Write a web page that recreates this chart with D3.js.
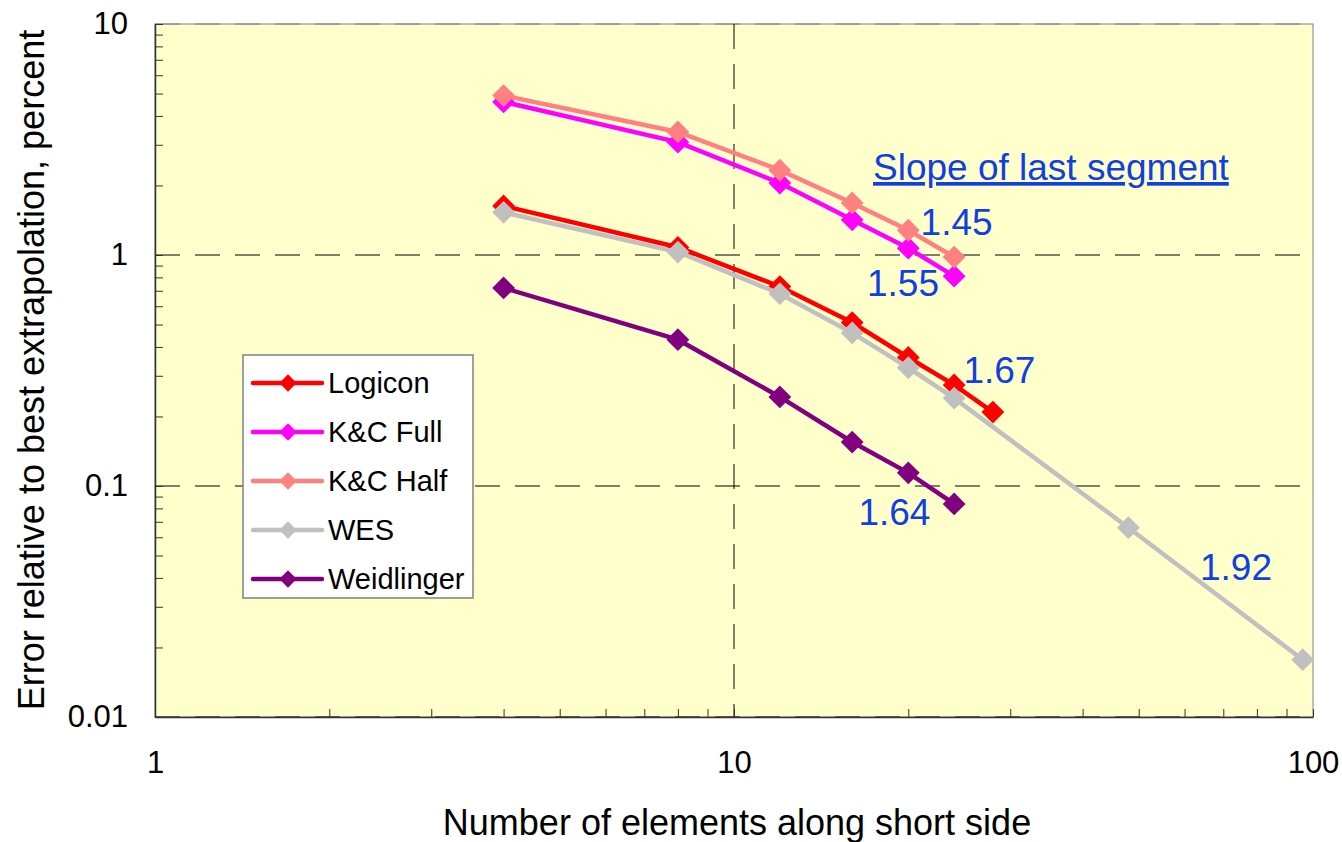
<!DOCTYPE html>
<html>
<head>
<meta charset="utf-8">
<script src="https://cdn.jsdelivr.net/npm/d3@7"></script>
<style>
  body { margin: 0; background: #ffffff; }
  text { font-family: "Liberation Sans", Arial, sans-serif; }
</style>
</head>
<body>
<div id="chart"></div>
<script>
// series data
var seriesNames = ["Logicon", "K&C Full", "K&C Half", "WES", "Weidlinger"];
var seriesColors = ["#ff0000", "#ff00ff", "#ff8080", "#c0c0c0", "#800080"];

var xLogicon = [4, 8, 12, 16, 20, 24, 28];
var yLogicon = [1.63, 1.08, 0.73, 0.51, 0.36, 0.274, 0.209];

var xKCFull = [4, 8, 12, 16, 20, 24];
var yKCFull = [4.6, 3.08, 2.05, 1.42, 1.07, 0.81];

var xKCHalf = [4, 8, 12, 16, 20, 24];
var yKCHalf = [4.9, 3.41, 2.33, 1.68, 1.28, 0.98];

var xWES = [4, 8, 12, 16, 20, 24, 48, 96];
var yWES = [1.53, 1.03, 0.68, 0.46, 0.325, 0.24, 0.066, 0.0177];

var xWeid = [4, 8, 12, 16, 20, 24];
var yWeid = [0.72, 0.43, 0.243, 0.155, 0.114, 0.0836];

// slope labels: text, x and y in data units (where the label starts / baseline)
var slopeLabels = ["1.45", "1.55", "1.67", "1.64", "1.92"];
var slopeX = [21.0, 16.97, 24.9, 16.4, 63.8];
var slopeY = [1.22, 0.665, 0.279, 0.0678, 0.0392];

var xTickLabels = [1, 10, 100];
var yTickLabels = [0.01, 0.1, 1, 10];

var svgWidth = 1342, svgHeight = 842;
var margin = { top: 24, right: 29, bottom: 125, left: 155 };
var width = svgWidth - margin.left - margin.right;
var height = svgHeight - margin.top - margin.bottom;

var svg = d3.select("#chart").append("svg")
    .attr("width", svgWidth)
    .attr("height", svgHeight);

var chartGroup = svg.append("g")
    .attr("transform", `translate(${margin.left}, ${margin.top})`);

var xScale = d3.scaleLog().domain([1, 100]).range([0, width]);
var yScale = d3.scaleLog().domain([0.01, 10]).range([height, 0]);

// plot background
chartGroup.append("rect")
    .attr("width", width)
    .attr("height", height)
    .attr("fill", "#ffffcc")
    .attr("stroke", "#808080")
    .attr("stroke-width", 1);

// all minor tick positions
var xTicks = [], yTicks = [];
[1, 10].forEach(function (d) { for (var i = 1; i <= 9; i++) xTicks.push(d * i); });
xTicks.push(100);
[0.01, 0.1, 1].forEach(function (d) { for (var i = 1; i <= 9; i++) yTicks.push(+(d * i).toFixed(4)); });
yTicks.push(10);

// dashed grid lines at the major values
chartGroup.selectAll(".hgrid")
    .data(yTickLabels)
    .enter().append("line")
    .attr("x1", 0).attr("x2", width)
    .attr("y1", d => yScale(d)).attr("y2", d => yScale(d))
    .attr("stroke", d => (d == 10 ? "#808080" : "#000"))
    .attr("stroke-width", 1)
    .attr("stroke-dasharray", "25,15");

chartGroup.append("line")
    .attr("x1", xScale(10)).attr("x2", xScale(10))
    .attr("y1", 0).attr("y2", height)
    .attr("stroke", "#000")
    .attr("stroke-width", 1)
    .attr("stroke-dasharray", "25,15");

// axes, ticks pointing inside
var xAxis = d3.axisBottom(xScale).tickValues(xTicks).tickSizeInner(-8).tickSizeOuter(0)
    .tickFormat(d => (xTickLabels.indexOf(d) >= 0 ? d : ""));
var yAxis = d3.axisLeft(yScale).tickValues(yTicks).tickSizeInner(-8).tickSizeOuter(0)
    .tickFormat(d => (yTickLabels.indexOf(d) >= 0 ? d : ""));

var gx = chartGroup.append("g")
    .attr("transform", `translate(0, ${height})`)
    .call(xAxis);
gx.select(".domain").attr("stroke", "#333").attr("stroke-width", 1.5);
gx.selectAll(".tick line").attr("stroke", "#333");
gx.selectAll(".tick text")
    .attr("y", 34)
    .attr("font-size", 31)
    .attr("fill", "#000");

var gy = chartGroup.append("g").call(yAxis);
gy.select(".domain").attr("stroke", "#333").attr("stroke-width", 1.5);
gy.selectAll(".tick line").attr("stroke", "#333");
gy.selectAll(".tick text")
    .attr("x", -27)
    .attr("font-size", 31)
    .attr("fill", "#000");

// series
var allSeries = [
    { x: xLogicon, y: yLogicon },
    { x: xKCFull, y: yKCFull },
    { x: xKCHalf, y: yKCHalf },
    { x: xWES, y: yWES },
    { x: xWeid, y: yWeid }
];

var line = d3.line().x(d => xScale(d[0])).y(d => yScale(d[1]));
var diamond = d3.symbol().type(d3.symbolSquare).size(260);

allSeries.forEach(function (s, i) {
    var pts = s.x.map((v, j) => [v, s.y[j]]);
    chartGroup.append("path")
        .datum(pts)
        .attr("d", line)
        .attr("fill", "none")
        .attr("stroke", seriesColors[i])
        .attr("stroke-width", 4.5);
    chartGroup.selectAll(".m" + i)
        .data(pts)
        .enter().append("path")
        .attr("d", diamond)
        .attr("transform", d => `translate(${xScale(d[0])}, ${yScale(d[1])}) rotate(45)`)
        .attr("fill", seriesColors[i]);
});

// slope annotations
chartGroup.append("text")
    .attr("x", 873 - margin.left)
    .attr("y", 180 - margin.top)
    .attr("font-size", 37)
    .attr("fill", "#1040e0")
    .attr("text-decoration", "underline")
    .text("Slope of last segment");

chartGroup.selectAll(".slope")
    .data(slopeLabels)
    .enter().append("text")
    .attr("x", (d, i) => xScale(slopeX[i]))
    .attr("y", (d, i) => yScale(slopeY[i]))
    .attr("font-size", 37)
    .attr("fill", "#1040e0")
    .text(d => d);

// legend
var legend = svg.append("g").attr("transform", "translate(243, 355)");
legend.append("rect")
    .attr("width", 230)
    .attr("height", 243)
    .attr("fill", "#fff")
    .attr("stroke", "#808080")
    .attr("stroke-width", 1.5);

var legendDiamond = d3.symbol().type(d3.symbolSquare).size(150);
seriesNames.forEach(function (name, i) {
    var ly = 28 + i * 49;
    legend.append("line")
        .attr("x1", 10).attr("x2", 79)
        .attr("y1", ly).attr("y2", ly)
        .attr("stroke", seriesColors[i])
        .attr("stroke-width", 4.5)
        .attr("stroke-linecap", "round");
    legend.append("path")
        .attr("d", legendDiamond)
        .attr("transform", `translate(45, ${ly}) rotate(45)`)
        .attr("fill", seriesColors[i]);
    legend.append("text")
        .attr("x", 85)
        .attr("y", ly + 10)
        .attr("font-size", 29)
        .attr("fill", "#000")
        .text(name);
});

// axis titles
svg.append("text")
    .attr("text-anchor", "middle")
    .attr("x", 737)
    .attr("y", 835)
    .attr("font-size", 36)
    .text("Number of elements along short side");

svg.append("text")
    .attr("text-anchor", "middle")
    .attr("transform", "translate(44, 370) rotate(-90)")
    .attr("font-size", 36)
    .text("Error relative to best extrapolation, percent");
</script>
</body>
</html>
